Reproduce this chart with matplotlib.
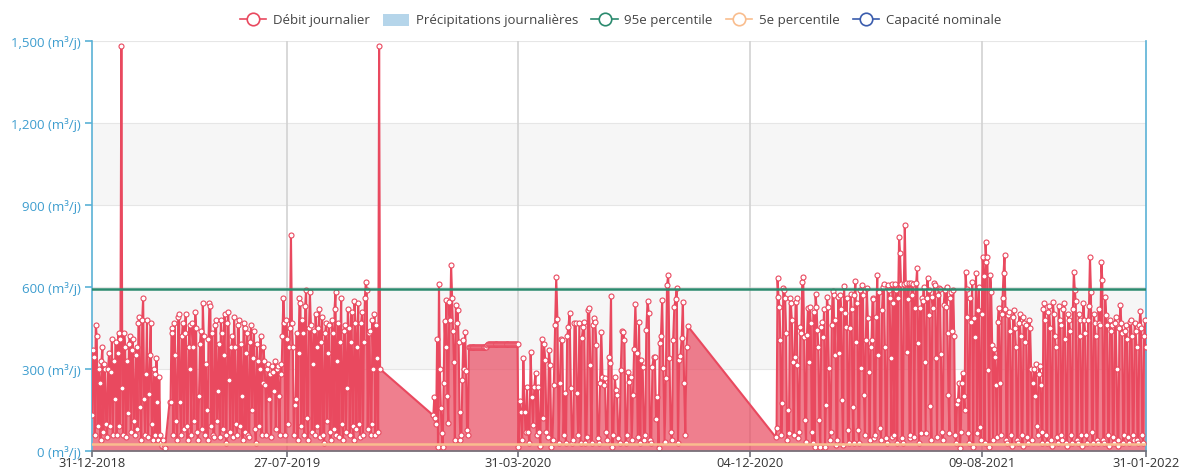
import matplotlib
matplotlib.use("Agg")
import matplotlib.pyplot as plt
import pandas as pd
from matplotlib.lines import Line2D
from matplotlib.patches import Patch

plt.rcParams['font.family'] = ['Open Sans', 'DejaVu Sans']

# ---------------- data ----------------
seg_a_range = ("2018-12-31", "2019-03-19")
seg_a = [130, 370, 345, 60, 460, 420, 90, 300, 250, 40,
         330, 380, 70, 320, 300, 100, 50, 300, 360, 90,
         290, 410, 60, 330, 190, 400, 60, 360, 430, 90,
         410, 1480, 230, 60, 430, 380, 50, 330, 140, 390,
         420, 70, 370, 410, 110, 60, 350, 380, 80, 470,
         490, 160, 40, 480, 560, 190, 60, 280, 480, 50,
         210, 350, 470, 100, 40, 300, 280, 60, 340, 180,
         40, 270, 60, 30, 20, 40, 15, 10]

seg_b_range = ("2019-03-24", "2019-11-04")
seg_b = [180, 180, 450, 430, 60, 470, 350, 110, 40, 490, 500, 180, 60, 420, 470, 80, 430, 500, 90, 40,
         380, 460, 300, 60, 470, 380, 110, 510, 450, 70, 40, 200, 390, 440, 80, 540, 420, 60, 320, 150,
         40, 410, 540, 530, 90, 430, 60, 50, 460, 480, 110, 220, 390, 50, 480, 430, 80, 350, 500, 60,
         30, 470, 510, 260, 70, 380, 420, 50, 490, 380, 100, 60, 460, 480, 90, 390, 200, 40, 470, 450,
         70, 360, 430, 60, 50, 400, 460, 150, 340, 440, 80, 30, 390, 330, 90, 300, 420, 60, 250, 380,
         330, 240, 60, 300, 320, 190, 280, 50, 310, 290, 220, 330, 80, 300, 310, 200, 60, 320, 280, 420,
         560, 470, 60, 480, 410, 100, 380, 450, 790, 470, 380, 60, 170, 190, 430, 40, 360, 560, 540, 90,
         480, 430, 60, 530, 590, 120, 40, 450, 580, 460, 70, 320, 440, 60, 500, 380, 90, 450, 520, 50,
         400, 490, 60, 30, 430, 470, 110, 360, 460, 70, 40, 480, 430, 80, 520, 580, 60, 330, 470, 50,
         400, 560, 100, 40, 440, 460, 70, 230, 520, 450, 60, 400, 510, 90, 40, 550, 470, 80, 380, 540,
         100, 50, 470, 510, 60, 400, 560, 620, 590, 80, 430, 440, 60, 100, 480, 300, 500, 60, 460, 340,
         70, 1480, 300]

seg_c_range = ("2019-12-31", "2020-02-06")
seg_c = [130, 197, 120, 100, 410, 15, 611, 300, 157, 66, 15, 250, 475, 380, 552, 200, 102, 545, 480,
         680, 560, 440, 326, 40, 534, 470, 516, 400, 142, 40, 60, 260, 406, 300, 436, 293, 77, 60]

seg_d_range = ("2020-02-07", "2020-03-30")
seg_d = [380, 381, 380, 379, 380, 381, 380, 380, 379, 380, 381, 380, 380, 379, 380, 381, 380, 380,
         382, 381, 388, 392, 392, 391, 392, 393, 392, 392, 391, 392, 393, 392, 392, 391, 392, 392,
         393, 392, 392, 391, 392, 393, 392, 392, 391, 392, 392, 393, 392, 392, 391, 392, 393, 392]

seg_e_range = ("2020-03-31", "2020-09-28")
seg_e = [16, 183, 142, 40, 340, 142, 70, 234, 71, 30, 362, 198, 95, 234, 285, 60, 235, 70, 20, 410,
         120, 392, 333, 70, 50, 370, 315, 16, 40, 241, 460, 636, 483, 28, 249, 410, 406, 60, 212, 31,
         421, 453, 505, 230, 28, 40, 470, 470, 212, 60, 470, 31, 412, 453, 472, 28, 50, 516, 523, 315,
         28, 461, 486, 473, 388, 46, 30, 248, 437, 272, 241, 266, 71, 40, 344, 322, 567, 16, 60, 272,
         223, 205, 46, 30, 296, 439, 437, 406, 28, 60, 289, 252, 272, 40, 205, 373, 538, 357, 50, 472,
         28, 333, 307, 40, 60, 443, 549, 505, 40, 30, 309, 344, 345, 117, 199, 10, 395, 419, 552, 303,
         34, 266, 607, 644, 339, 71, 40, 406, 527, 556, 596, 28, 333, 348, 413, 545, 249, 60, 380, 457]

seg_f_range = ("2020-12-31", "2022-01-31")
seg_f = [51, 83, 632, 565, 528, 406, 60, 175, 596, 590, 560, 431, 40, 150, 66, 560, 541, 480, 326, 59,
         344, 545, 560, 315, 48, 70, 454, 431, 618, 637, 418, 113, 34, 424, 523, 326, 528, 470, 70, 30,
         509, 16, 574, 528, 443, 380, 113, 16, 454, 472, 418, 520, 16, 168, 565, 528, 304, 40, 71, 461,
         585, 571, 351, 480, 22, 40, 564, 358, 571, 520, 186, 22, 604, 504, 455, 560, 77, 28, 449, 574,
         520, 161, 28, 571, 622, 399, 540, 77, 30, 589, 304, 607, 571, 205, 60, 406, 596, 486, 289, 40,
         381, 406, 560, 555, 46, 60, 492, 644, 353, 580, 83, 40, 516, 600, 610, 381, 46, 30, 607, 590,
         560, 340, 50, 610, 540, 60, 610, 590, 30, 560, 783, 724, 610, 46, 30, 610, 827, 613, 363, 555,
         613, 46, 60, 613, 571, 610, 52, 522, 613, 669, 394, 30, 522, 65, 559, 547, 600, 327, 65, 559,
         633, 497, 590, 166, 40, 564, 522, 613, 607, 339, 50, 571, 595, 592, 355, 71, 40, 534, 589, 528,
         600, 431, 205, 65, 560, 580, 440, 590, 420, 60, 30, 172, 187, 250, 12, 71, 249, 285, 200, 150,
         655, 592, 490, 65, 30, 560, 473, 620, 16, 485, 418, 650, 65, 516, 601, 89, 40, 503, 710, 640,
         30, 765, 692, 710, 296, 16, 644, 580, 388, 40, 375, 344, 241, 52, 473, 523, 247, 60, 503, 560,
         651, 717, 520, 40, 30, 498, 510, 440, 60, 20, 490, 516, 450, 380, 40, 30, 470, 500, 420, 60,
         20, 490, 470, 400, 460, 50, 30, 480, 450, 300, 40, 250, 300, 200, 320, 90, 60, 280, 310, 240,
         70, 30, 520, 540, 480, 60, 30, 510, 530, 450, 40, 20, 545, 500, 420, 380, 50, 30, 530, 480,
         460, 60, 40, 520, 540, 410, 30, 20, 500, 480, 440, 60, 30, 520, 654, 590, 547, 40, 30, 500,
         480, 420, 60, 20, 540, 480, 430, 60, 30, 480, 530, 709, 583, 70, 30, 500, 470, 420, 40, 30,
         520, 470, 460, 693, 626, 40, 30, 565, 498, 460, 60, 20, 480, 440, 460, 50, 30, 470, 490, 300,
         40, 20, 450, 534, 470, 430, 30, 60, 440, 460, 410, 50, 30, 473, 480, 420, 60, 40, 470, 440,
         380, 40, 30, 460, 513, 450, 60, 30, 420, 480, 380]

p95 = 592
p5 = 25

y_ticks = [0, 300, 600, 900, 1200, 1500]
x_tick_dates = ["2018-12-31", "2019-07-27", "2020-03-31", "2020-12-04", "2021-08-09", "2022-01-31"]

legend_labels = ["Débit journalier", "Précipitations journalières", "95e percentile",
                 "5e percentile", "Capacité nominale"]

# ---------------- build series ----------------
segments = [(seg_a_range, seg_a), (seg_b_range, seg_b), (seg_c_range, seg_c),
            (seg_d_range, seg_d), (seg_e_range, seg_e), (seg_f_range, seg_f)]
dates = []
vals = []
for (s, e), v in segments:
    dates.extend(pd.date_range(s, e, periods=len(v)))
    vals.extend(v)
dates = pd.DatetimeIndex(dates)

RED = '#e9495f'
GREEN = '#2b8a6e'
ORANGE = '#f9bd8e'
BLUE_CAP = '#3a5cad'
AXIS_BLUE = '#5ab1d6'
LABEL_BLUE = '#3d9dcf'

fig = plt.figure(figsize=(11.82, 4.71), dpi=100)
ax = fig.add_axes([92/1182, 20/471, (1146-92)/1182, 410/471])

x0 = pd.Timestamp(x_tick_dates[0])
x1 = pd.Timestamp(x_tick_dates[-1])
ax.set_xlim(x0, x1)
ax.set_ylim(0, 1500)

# background bands & grid
for lo, hi in [(300, 600), (900, 1200)]:
    ax.axhspan(lo, hi, color='#f6f6f6', zorder=0, lw=0)
for yv in y_ticks[1:]:
    ax.axhline(yv, color='#e6e6e6', lw=0.8, zorder=0.5)
for d in x_tick_dates[1:-1]:
    ax.axvline(pd.Timestamp(d), color='#d2d2d2', lw=1.2, zorder=0.5)

# series
ax.fill_between(dates, vals, 0, color=RED, alpha=0.7, lw=0, zorder=2)
ax.plot(dates, vals, color=RED, lw=1.5, marker='o', markersize=3.6,
        markerfacecolor='white', markeredgecolor=RED, markeredgewidth=0.8, zorder=3)

ax.axhline(p95, color=GREEN, lw=1.8, zorder=4)
ax.axhline(p5, color=ORANGE, lw=1.8, zorder=4)

# axes styling
ax.spines['top'].set_visible(False)
ax.spines['left'].set_color(AXIS_BLUE)
ax.spines['left'].set_linewidth(1.2)
ax.spines['right'].set_color(AXIS_BLUE)
ax.spines['right'].set_linewidth(1.2)
ax.spines['bottom'].set_color('#6e7079')
ax.spines['bottom'].set_linewidth(1.2)
ax.spines['bottom'].set_zorder(5)

ax.set_yticks(y_ticks)
ax.set_yticklabels([f"{v:,} (m³/j)" for v in y_ticks], color=LABEL_BLUE, fontsize=9.5)
ax.tick_params(axis='y', colors=AXIS_BLUE, labelcolor=LABEL_BLUE, length=5, width=1.2, pad=3)

ax.set_xticks([pd.Timestamp(d) for d in x_tick_dates])
ax.set_xticklabels([pd.Timestamp(d).strftime("%d-%m-%Y") for d in x_tick_dates],
                   color='#333333', fontsize=9.3)
ax.tick_params(axis='x', colors='#6e7079', labelcolor='#333333', length=4, width=1.2, pad=0.5)

# legend
handles = [
    Line2D([0], [0], color=RED, lw=1.2, marker='o', markersize=9,
           markerfacecolor='white', markeredgecolor=RED, markeredgewidth=1.2),
    Patch(facecolor='#b5d5ea', edgecolor='none'),
    Line2D([0], [0], color=GREEN, lw=1.2, marker='o', markersize=9,
           markerfacecolor='white', markeredgecolor=GREEN, markeredgewidth=1.2),
    Line2D([0], [0], color=ORANGE, lw=1.2, marker='o', markersize=9,
           markerfacecolor='white', markeredgecolor=ORANGE, markeredgewidth=1.2),
    Line2D([0], [0], color=BLUE_CAP, lw=1.2, marker='o', markersize=9,
           markerfacecolor='white', markeredgecolor=BLUE_CAP, markeredgewidth=1.2),
]
leg = fig.legend(handles, legend_labels, loc='upper center', bbox_to_anchor=(0.525, 0.996),
                 ncol=5, frameon=False, fontsize=9.5, handlelength=2.0, handleheight=1.0,
                 columnspacing=1.0, handletextpad=0.5)
for t in leg.get_texts():
    t.set_color('#444444')

fig.savefig("out.png", dpi=100)
